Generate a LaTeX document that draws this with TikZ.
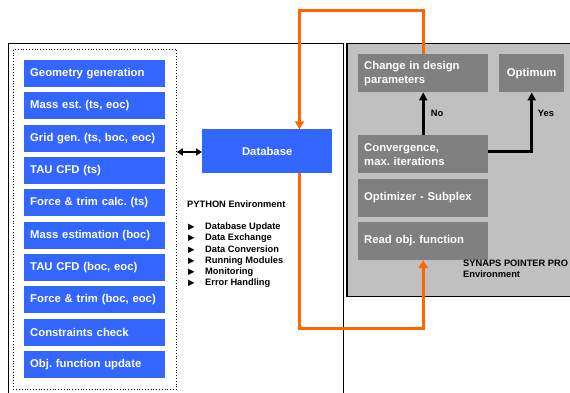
\documentclass[tikz,border=0pt]{standalone}
\usepackage{fontspec}
\setmainfont{Liberation Sans}
\newfontfamily\dejavu{DejaVu Sans}
\usetikzlibrary{arrows.meta}
\definecolor{boxblue}{HTML}{3366FF}
\definecolor{darkbox}{HTML}{808080}
\definecolor{lightbox}{HTML}{C0C0C0}
\definecolor{flow}{HTML}{FF6600}
\newcommand{\bul}{\makebox[17pt][l]{\dejavu\fontsize{8.5}{8}\selectfont ▶}}
\begin{document}
\frenchspacing
\begin{tikzpicture}[x=1pt,y=-1pt,
  boxtext/.style={font=\bfseries\frenchspacing\fontsize{11.3}{14}\selectfont},
  bluebox/.style={boxtext, fill=boxblue, text=white, anchor=north west,
    text width=129pt, inner xsep=6pt, inner ysep=0pt, minimum height=27pt, align=left},
  greybox/.style={boxtext, fill=darkbox, text=white, anchor=north west,
    text width=118pt, inner xsep=6pt, inner ysep=0pt, minimum height=38pt, align=left},
  small/.style={font=\bfseries\frenchspacing\fontsize{9.3}{11.3}\selectfont, inner sep=0pt},
  flowline/.style={draw=flow, line width=3pt, -{Triangle[length=8pt,width=9pt]}},
  blk/.style={draw=black, line width=2.6pt, -{Triangle[length=8pt,width=8pt]}},
  dbl/.style={draw=black, line width=2.4pt, {Triangle[length=6pt,width=7pt]}-{Triangle[length=6pt,width=7pt]}}
]
\useasboundingbox (0,0) rectangle (570,393);
\clip (0,0) rectangle (570,393);

% Python frame
\draw[line width=1pt] (8,400) -- (8,44) -- (343,44) -- (343,400);
\node[draw, dotted, line width=0.8pt, anchor=north west, minimum width=163pt,
  minimum height=340pt, inner sep=0pt] (pyinner) at (13,49) {};

% Synaps environment
\draw[fill=lightbox, line width=1.3pt] (347,43.5) rectangle (600,296.7);

% Blue module boxes
\node[bluebox] (b1) at (24,60.0) {Geometry generation};
\node[bluebox] (b2) at (24,92.3) {Mass est. (ts, eoc)};
\node[bluebox] (b3) at (24,124.6) {Grid gen. (ts, boc, eoc)};
\node[bluebox] (b4) at (24,156.9) {TAU CFD (ts)};
\node[bluebox] (b5) at (24,189.2) {Force \& trim calc. (ts)};
\node[bluebox] (b6) at (24,221.5) {Mass estimation (boc)};
\node[bluebox] (b7) at (24,253.8) {TAU CFD (boc, eoc)};
\node[bluebox] (b8) at (24,286.1) {Force \& trim (boc, eoc)};
\node[bluebox] (b9) at (24,318.4) {Constraints check};
\node[bluebox] (b10) at (24,350.7) {Obj. function update};

% Database
\node[boxtext, fill=boxblue, text=white, anchor=north west, minimum width=130pt,
  minimum height=43.4pt, inner sep=0pt] (db) at (202,129.3) {Database};

% Python text
\node[small, anchor=base west] (pyenv) at (187,207.4) {PYTHON Environment};
\node[small, anchor=north west, align=left] (pylist) at (188,222.5)
  {\bul Database Update\\
   \bul Data Exchange\\
   \bul Data Conversion\\
   \bul Running Modules\\
   \bul Monitoring\\
   \bul Error Handling};

% Grey optimizer boxes
\node[greybox] (change) at (358,54) {Change in design\\parameters};
\node[greybox, text width=53pt, align=center] (opt) at (499,54) {Optimum};
\node[greybox] (conv) at (358,135) {Convergence,\\max. iterations};
\node[greybox] (optim) at (358,178.3) {Optimizer - Subplex};
\node[greybox] (read) at (358,221.7) {Read obj. function};

\node[small, anchor=base west, align=left] (synaps) at (463,277.3)
  {SYNAPS POINTER PRO\\Environment};

% Decision arrows
\draw[blk] (conv.north) -- (change.south);
\draw[blk] ([yshift=2.5pt]conv.east) -| (opt.south);
\node[small] (no) at (437,113) {No};
\node[small] (yes) at (546,113) {Yes};

% Double arrow
\draw[dbl] (pyinner.east |- 0,152) -- (db.west |- 0,152);

% Orange flow
\coordinate (o1) at (299.5,11);
\coordinate (o2) at (299.5,328);
\draw[flowline] (change.north) |- (o1) -- (o1 |- db.north);
\draw[flowline] (o2 |- db.south) -- (o2) -| (read.south);
\end{tikzpicture}
\end{document}
